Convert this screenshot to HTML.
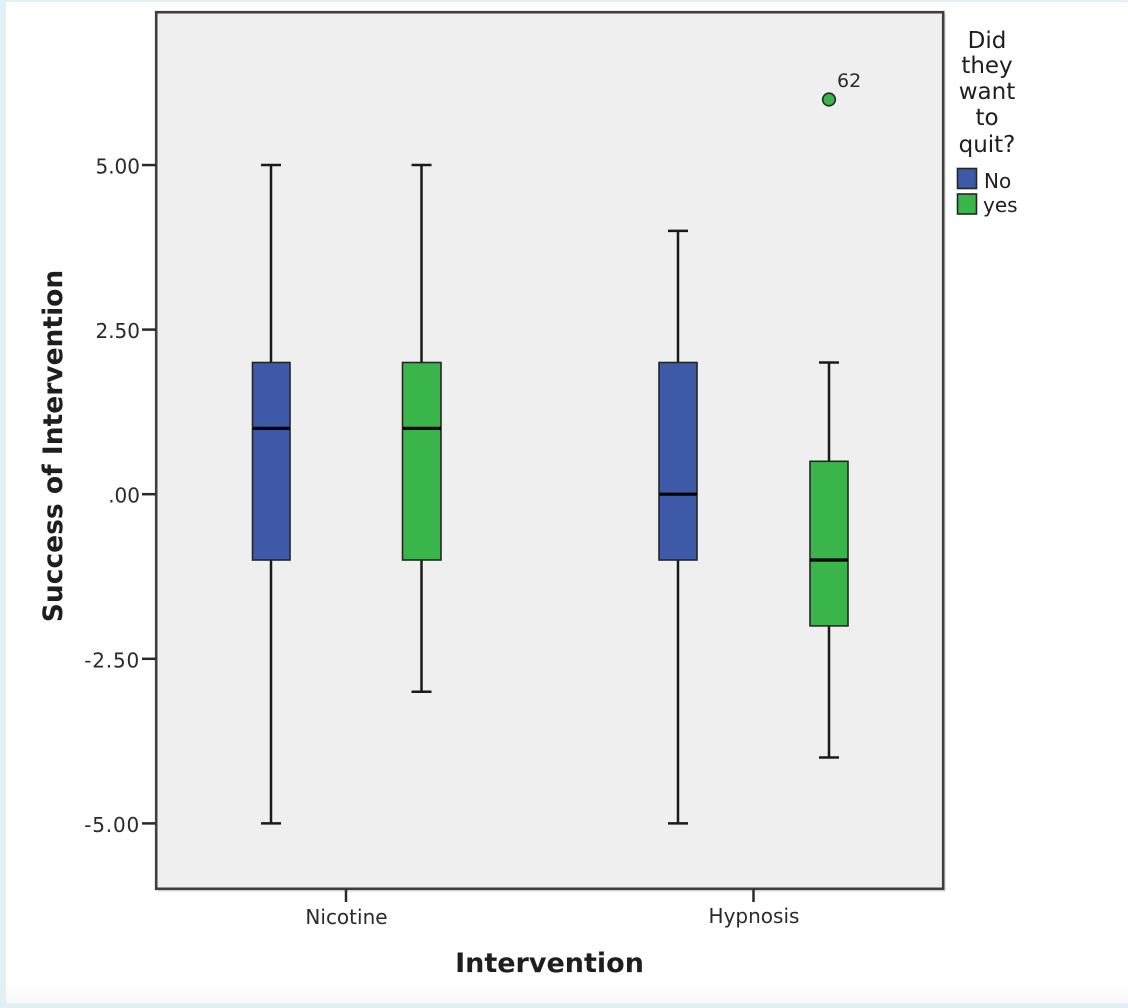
<!DOCTYPE html>
<html>
<head>
<meta charset="utf-8">
<style>
  html,body{margin:0;padding:0;}
  body{width:1128px;height:1008px;overflow:hidden;background:#e0f0f6;position:relative;}
  .panel{position:absolute;left:6px;top:2px;width:1122px;height:1001px;background:linear-gradient(to bottom,#ffffff 0,#ffffff 980px,#f8f8f8 1001px);}
  svg{position:absolute;left:0;top:0;}
  text{font-family:"DejaVu Sans","Liberation Sans",sans-serif;}
</style>
</head>
<body>
<div class="panel"></div>
<svg width="1128" height="1008" viewBox="0 0 1128 1008" xmlns="http://www.w3.org/2000/svg">
  <!-- plot background and frame -->
  <rect x="158" y="14" width="788" height="878" fill="#d8d8d8" opacity="0.6"/>
  <rect x="156.2" y="12.2" width="787" height="876.6" fill="#efefef" stroke="#3e3e3e" stroke-width="2.6"/>

  <!-- y ticks -->
  <g stroke="#2a2a2a" stroke-width="2.5">
    <line x1="142" y1="165.05" x2="156" y2="165.05"/>
    <line x1="142" y1="329.6" x2="156" y2="329.6"/>
    <line x1="142" y1="494.2" x2="156" y2="494.2"/>
    <line x1="142" y1="658.8" x2="156" y2="658.8"/>
    <line x1="142" y1="823.4" x2="156" y2="823.4"/>
    <line x1="346" y1="889" x2="346" y2="902"/>
    <line x1="753.5" y1="889" x2="753.5" y2="902"/>
  </g>
  <g font-size="20" fill="#2a2a2a" text-anchor="end">
    <text x="140" y="173.5">5.00</text>
    <text x="140" y="338">2.50</text>
    <text x="140" y="502.7">.00</text>
    <text x="140" y="667.5" letter-spacing="0.8">-2.50</text>
    <text x="140" y="832" letter-spacing="0.8">-5.00</text>
  </g>
  <g font-size="20" fill="#2a2a2a" text-anchor="middle">
    <text x="346.5" y="924">Nicotine</text>
    <text x="754" y="923">Hypnosis</text>
  </g>

  <!-- axis titles -->
  <text x="549.5" y="972" font-size="27" font-weight="bold" fill="#1e1e1e" text-anchor="middle">Intervention</text>
  <text transform="translate(62,446) rotate(-90)" font-size="26.5" font-weight="bold" fill="#1e1e1e" text-anchor="middle">Success of Intervention</text>

  <!-- whiskers -->
  <g stroke="#1a1a1a" stroke-width="2.5" fill="none">
    <!-- A -->
    <line x1="271" y1="165.05" x2="271" y2="362.5"/>
    <line x1="271" y1="560" x2="271" y2="823.4"/>
    <line x1="261" y1="165.05" x2="281" y2="165.05"/>
    <line x1="261" y1="823.4" x2="281" y2="823.4"/>
    <!-- B -->
    <line x1="421.5" y1="165.05" x2="421.5" y2="362.5"/>
    <line x1="421.5" y1="560" x2="421.5" y2="691.7"/>
    <line x1="411.5" y1="165.05" x2="431.5" y2="165.05"/>
    <line x1="411.5" y1="691.7" x2="431.5" y2="691.7"/>
    <!-- C -->
    <line x1="678" y1="230.9" x2="678" y2="362.5"/>
    <line x1="678" y1="560" x2="678" y2="823.4"/>
    <line x1="668" y1="230.9" x2="688" y2="230.9"/>
    <line x1="668" y1="823.4" x2="688" y2="823.4"/>
    <!-- D -->
    <line x1="829" y1="362.5" x2="829" y2="461.3"/>
    <line x1="829" y1="625.9" x2="829" y2="757.5"/>
    <line x1="819" y1="362.5" x2="839" y2="362.5"/>
    <line x1="819" y1="757.5" x2="839" y2="757.5"/>
  </g>

  <!-- boxes -->
  <g stroke="#262626" stroke-width="1.6">
    <rect x="252.5" y="362.5" width="37.5" height="197.5" fill="#3d59a7"/>
    <rect x="402.5" y="362.5" width="38.5" height="197.5" fill="#39b54a"/>
    <rect x="659" y="362.5" width="38" height="197.5" fill="#3d59a7"/>
    <rect x="810" y="461.3" width="38" height="164.6" fill="#39b54a"/>
  </g>
  <!-- medians -->
  <g stroke="#000" stroke-width="3.2">
    <line x1="253" y1="428.4" x2="290" y2="428.4"/>
    <line x1="403" y1="428.4" x2="441" y2="428.4"/>
    <line x1="659.5" y1="494.2" x2="697" y2="494.2"/>
    <line x1="810.5" y1="560" x2="848" y2="560"/>
  </g>

  <!-- outlier -->
  <circle cx="829" cy="99.5" r="6.3" fill="#39b54a" stroke="#262626" stroke-width="1.6"/>
  <text x="837" y="87" font-size="19" fill="#2a2a2a">62</text>

  <!-- legend -->
  <g font-size="23" fill="#1e1e1e" text-anchor="middle">
    <text x="987" y="48">Did</text>
    <text x="987" y="73">they</text>
    <text x="987" y="99">want</text>
    <text x="987" y="125">to</text>
    <text x="987" y="152">quit?</text>
  </g>
  <rect x="957.5" y="168.5" width="19" height="20" fill="#3d59a7" stroke="#262626" stroke-width="1.6"/>
  <rect x="957.5" y="194" width="19" height="20" fill="#39b54a" stroke="#262626" stroke-width="1.6"/>
  <g font-size="20" fill="#1e1e1e">
    <text x="984" y="188">No</text>
    <text x="983" y="212">yes</text>
  </g>
</svg>
</body>
</html>
